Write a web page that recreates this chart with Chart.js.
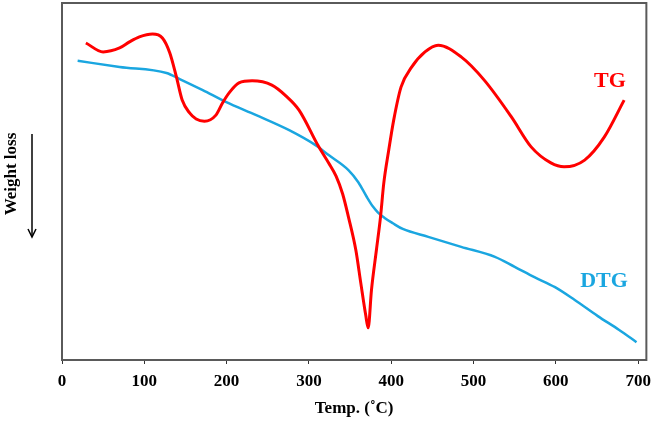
<!DOCTYPE html>
<html>
<head>
<meta charset="utf-8">
<script src="https://cdn.jsdelivr.net/npm/chart.js@4"></script>
<style>
  body { margin: 0; background: #fff; }
</style>
</head>
<body>
<canvas id="myChart" width="658" height="421"></canvas>
<script>
// values (y in arbitrary units, 0 = bottom of the plot)
const tgTemp = [29, 50, 70, 82, 94, 110, 122, 131, 139, 146, 155, 163, 173, 187, 195, 204, 215, 231, 255, 272, 288, 312, 324, 333, 341, 348, 357, 363, 369, 372, 376, 382, 387, 391, 397, 403, 412, 425, 441, 457, 485, 513, 546, 570, 594, 610, 635, 659, 683];
const tgValue = [88.8, 86.3, 87.4, 89.1, 90.5, 91.3, 90.2, 86.0, 79.3, 72.8, 69.2, 67.5, 66.9, 68.6, 72.0, 75.1, 77.6, 78.2, 77.0, 74.0, 70.0, 59.7, 55.2, 51.5, 46.5, 40.1, 30.8, 21.6, 12.6, 9.0, 19.6, 30.8, 40.1, 49.6, 58.8, 67.2, 76.5, 82.1, 86.3, 88.2, 84.9, 78.4, 68.1, 59.7, 55.2, 54.1, 56.0, 62.5, 72.8];

const dtgTemp = [19, 70, 127, 143, 171, 199, 236, 276, 308, 324, 348, 360, 370, 378, 384, 392, 402, 414, 445, 485, 526, 550, 574, 599, 623, 651, 677, 698];
const dtgValue = [83.8, 82.1, 80.4, 78.7, 75.6, 72.3, 68.6, 64.4, 60.2, 57.4, 53.2, 49.8, 45.8, 42.9, 41.3, 39.8, 38.3, 36.7, 34.5, 31.7, 28.9, 26.1, 23.2, 20.4, 16.8, 12.3, 8.4, 5.0];

const xTicks = [0, 100, 200, 300, 400, 500, 600, 700];

const serif = '"Liberation Serif", "Times New Roman", serif';

const toPoints = (xs, ys) => xs.map((x, i) => ({ x: x, y: ys[i] }));

// frame, series names and the weight loss arrow
const extras = {
    id: 'extras',
    afterDraw(chart) {
        const ctx = chart.ctx;
        const a = chart.chartArea;
        ctx.save();
        ctx.strokeStyle = '#5a5a5a';
        ctx.lineWidth = 2;
        ctx.strokeRect(a.left, a.top, a.right - a.left, a.bottom - a.top);

        ctx.font = 'bold 22px ' + serif;
        ctx.textAlign = 'center';
        ctx.textBaseline = 'middle';
        ctx.fillStyle = '#ff0000';
        ctx.fillText('TG', 610, 81);
        ctx.fillStyle = '#1aa6e0';
        ctx.fillText('DTG', 604, 281);

        // y title
        ctx.fillStyle = '#000';
        ctx.font = 'bold 17px ' + serif;
        ctx.translate(12, 174);
        ctx.rotate(-Math.PI / 2);
        ctx.fillText('Weight loss', 0, 0);
        ctx.setTransform(1, 0, 0, 1, 0, 0);

        // arrow
        ctx.strokeStyle = '#000';
        ctx.lineWidth = 1.5;
        ctx.beginPath();
        ctx.moveTo(32, 134);
        ctx.lineTo(32, 236);
        ctx.stroke();
        ctx.beginPath();
        ctx.moveTo(28, 229);
        ctx.lineTo(32, 237);
        ctx.lineTo(36, 229);
        ctx.stroke();
        ctx.restore();
    }
};

const ctx = document.getElementById('myChart').getContext('2d');
const myChart = new Chart(ctx, {
    type: 'line',
    data: {
        datasets: [{
            label: 'TG',
            data: toPoints(tgTemp, tgValue),
            borderColor: '#ff0000',
            borderWidth: 3,
            pointRadius: 0,
            cubicInterpolationMode: 'monotone'
        }, {
            label: 'DTG',
            data: toPoints(dtgTemp, dtgValue),
            borderColor: '#1aa6e0',
            borderWidth: 2.5,
            pointRadius: 0,
            cubicInterpolationMode: 'monotone'
        }]
    },
    options: {
        responsive: false,
        animation: false,
        layout: {
            padding: { left: 62, right: 8, top: 3, bottom: 0 }
        },
        plugins: {
            legend: { display: false },
            tooltip: { enabled: false }
        },
        scales: {
            x: {
                type: 'linear',
                min: 0,
                max: 710,
                afterBuildTicks: axis => {
                    axis.ticks = xTicks.map(v => ({ value: v }));
                },
                afterFit: axis => {
                    axis.height = 61;
                },
                grid: {
                    drawOnChartArea: false,
                    tickLength: 4,
                    color: '#333'
                },
                border: { color: '#5a5a5a', width: 2 },
                ticks: {
                    color: '#000',
                    padding: 7,
                    maxRotation: 0,
                    font: { family: serif, size: 17, weight: 'bold' }
                },
                title: {
                    display: true,
                    text: 'Temp. (˚C)',
                    color: '#000',
                    padding: { top: 0, bottom: 2 },
                    font: { family: serif, size: 17, weight: 'bold' }
                }
            },
            y: {
                display: false,
                min: 0,
                max: 100
            }
        }
    },
    plugins: [extras]
});
</script>
</body>
</html>
